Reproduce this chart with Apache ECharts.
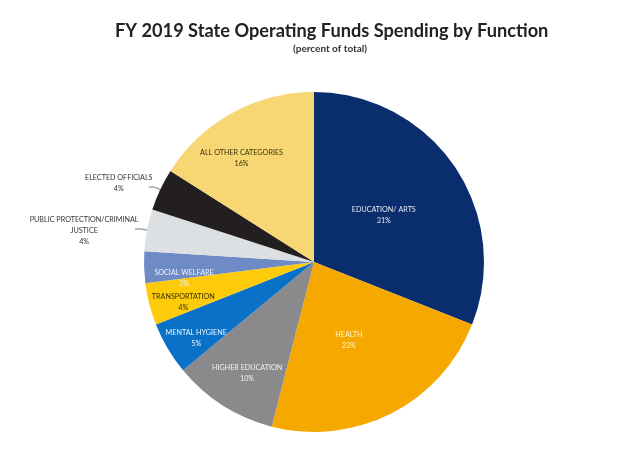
<!DOCTYPE html>
<html>
<head>
<meta charset="utf-8">
<script src="https://cdn.jsdelivr.net/npm/echarts@6/dist/echarts.min.js"></script>
<style>html,body{margin:0;padding:0;background:#fff;}#c{width:640px;height:453px;}</style>
</head>
<body>
<div id="c"></div>
<script>
const categories = ["EDUCATION/ ARTS","HEALTH","HIGHER EDUCATION","MENTAL HYGIENE","TRANSPORTATION","SOCIAL WELFARE","PUBLIC PROTECTION/CRIMINAL\nJUSTICE","ELECTED OFFICIALS","ALL OTHER CATEGORIES"];
const values = [31, 23, 10, 5, 4, 3, 4, 4, 16];

// styling (not data)
const colors = ["#0A2D6E","#F5A800","#8A8A8D","#0A71C9","#FDCB0A","#6E8BC6","#DCE0E3","#231F20","#F7D774"];
const labelMode = ["mid","mid","outer","outer","outer","outer","outside","outside","outer"];
const labelColors = ["#E6EAF2","#FFF3D6","#F2F2F2","#EEF4FB","#3A3000","#EEF2FA","#333333","#333333","#3A3000"];
const labelNudge = [[-3,3],[-5,0],[7,-5],[1,6],[3,6],[8,12],[9,13],[8,2],[-6,17]];

const font = "Lato, 'Open Sans', sans-serif";
const fs = 7.2;
const fmt = p => p.name + "\n" + p.value + "%";

const mainData = categories.map((n,i) => ({
  name: n, value: values[i],
  itemStyle: {color: colors[i]},
  label: labelMode[i] === "mid" ? {show:true, position:'inside', color: labelColors[i]} :
         labelMode[i] === "outside" ? {show:true, position:'outside', color: labelColors[i],
            formatter: p => '{a|' + p.name.split('\n').join('}\n{a|') + '}\n{a|' + p.value + '%}',
            rich: {a: {width: i===6?110:66, align:'center', fontSize: fs, lineHeight: 11, color:'#333', fontFamily: font}},
            padding: i===6 ? [0,0,22,0] : [0,0,11,0]} :
         {show:false},
  labelLine: labelMode[i] === "outside" ? {show:true, length: 6, length2: 6, lineStyle:{color:'#555', width:0.8}} : {show:false}
}));
const ringData = categories.map((n,i) => ({
  name: n, value: values[i],
  itemStyle: {color: 'transparent'},
  label: labelMode[i] === "outer" ? {show:true, position:'inside', color: labelColors[i]} : {show:false}
}));

const nudge = p => ({dx: labelNudge[p.dataIndex][0], dy: labelNudge[p.dataIndex][1]});

const chart = echarts.init(document.getElementById('c'), null, {renderer:'canvas'});
chart.setOption({
  animation: false,
  backgroundColor: '#fff',
  title: [
    {
      text: 'FY 2019 State Operating Funds Spending by Function',
      left: 115, top: 22, padding: 0,
      textStyle: {fontFamily: font, fontWeight: 'bold', fontSize: 18.2, color: '#222'}
    },
    {
      text: '(percent of total)',
      left: 293, top: 44, padding: 0,
      textStyle: {fontFamily: font, fontWeight: 'bold', fontSize: 10, color: '#333'}
    }
  ],
  series: [
    {
      type: 'pie', radius: [0, 170], center: [314, 262], startAngle: 90, clockwise: true,
      data: mainData, sort: false,
      label: {fontFamily: font, fontSize: fs, lineHeight: 11, formatter: fmt, textBorderWidth: 0},
      labelLayout: nudge,
      emphasis: {disabled: true},
      avoidLabelOverlap: false
    },
    {
      type: 'pie', radius: [100, 170], center: [314, 262], startAngle: 90, clockwise: true,
      data: ringData, silent: true, z: 3,
      label: {fontFamily: font, fontSize: fs, lineHeight: 11, formatter: fmt},
      labelLayout: nudge,
      labelLine: {show:false}, emphasis: {disabled: true},
      avoidLabelOverlap: false
    }
  ]
});
</script>
</body>
</html>
